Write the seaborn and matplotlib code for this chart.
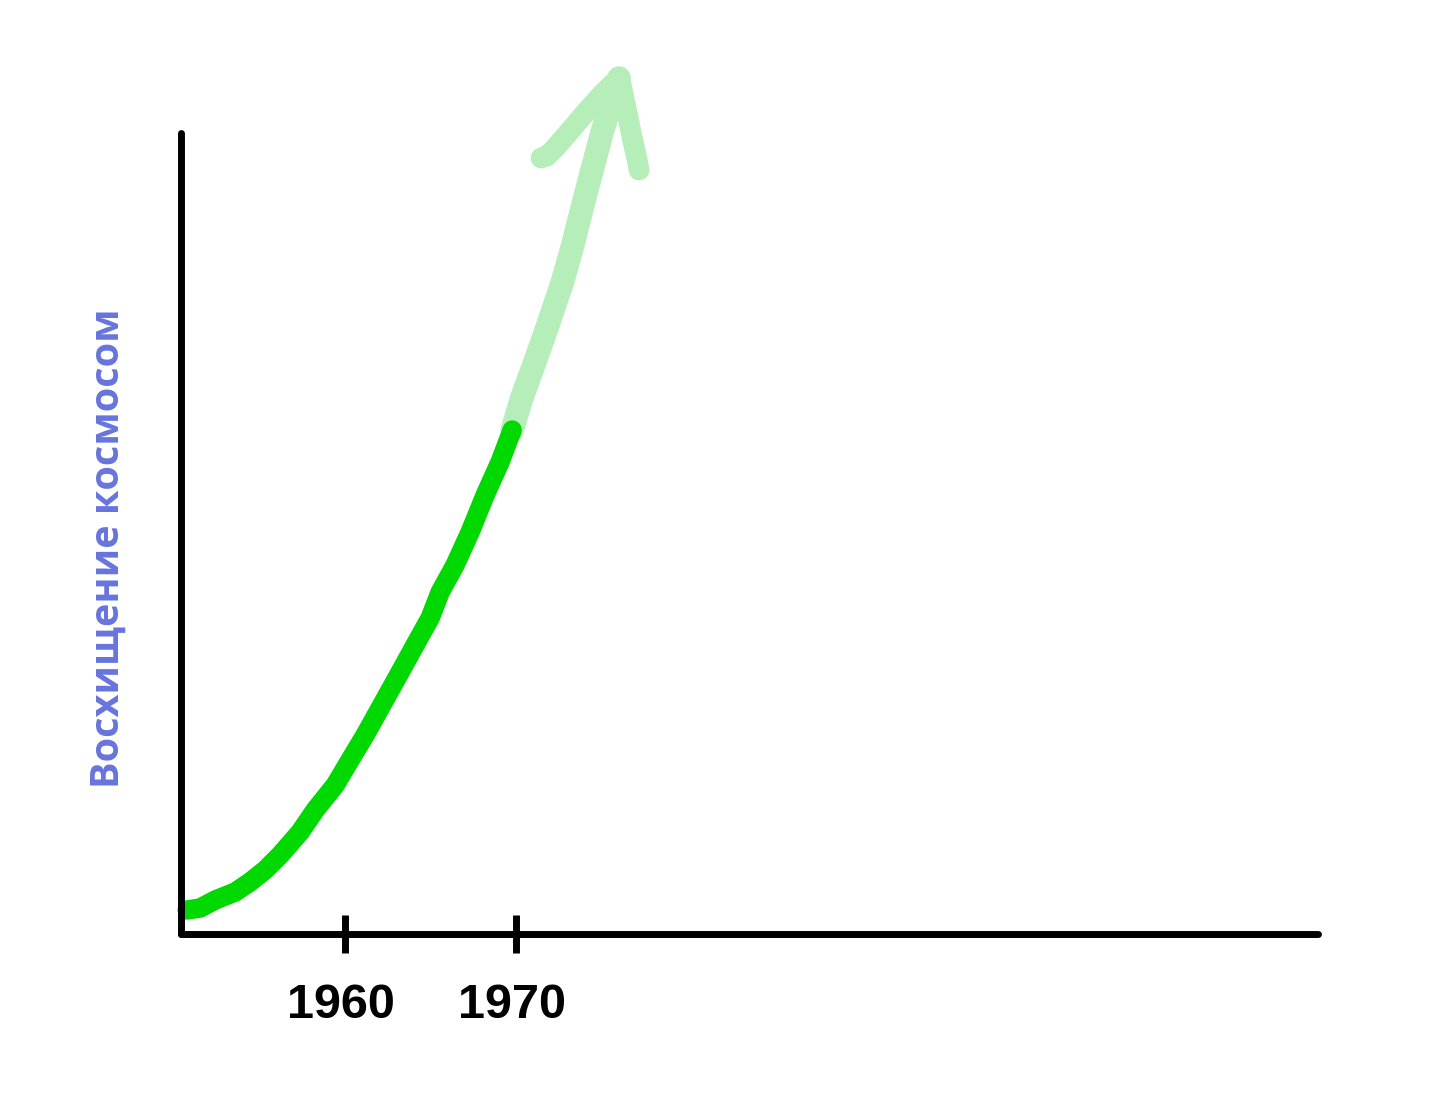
import matplotlib
matplotlib.use("Agg")
import matplotlib.pyplot as plt
import matplotlib.transforms as mtransforms
import seaborn as sns
import pandas as pd

# data (years vs. arbitrary "admiration" units)
past_years = [1950.76, 1951.52, 1952.40, 1953.57, 1954.44, 1955.32, 1956.20, 1957.37,
              1958.25, 1959.42, 1960.29, 1961.17, 1962.05, 1963.22, 1964.09, 1964.97,
              1965.56, 1966.43, 1967.31, 1968.19, 1969.06, 1969.77]
past_vals = [24, 26, 34, 42, 52, 64, 79, 102, 124, 149, 174, 199, 226, 262, 289, 316,
             342, 369, 402, 439, 472, 504]

future_years = [1969.77, 1970.35, 1970.99, 1971.70, 1972.69, 1973.27, 1973.86, 1974.44,
                1975.03, 1975.61, 1976.02]
future_vals = [504, 537, 567, 601, 651, 686, 726, 764, 802, 834, 856]

barb_left_years = [1976.02, 1975.09, 1974.04, 1973.04, 1972.28, 1971.81, 1971.46]
barb_left_vals = [856, 841, 821, 801, 786, 778, 776]
barb_right_years = [1976.08, 1976.43, 1976.78, 1977.08, 1977.19]
barb_right_vals = [854, 826, 797, 774, 764]

tick_years = [1960, 1970]
tick_labels = ["1960", "1970"]
ylabel = "Восхищение космосом"

sns.set_style("white")
plt.rcParams["font.family"] = ["Liberation Sans", "DejaVu Sans"]

fig = plt.figure(figsize=(14.52, 10.94), dpi=100)
ax = fig.add_axes([181 / 1452, 160 / 1094, 1137 / 1452, 801 / 1094])

light = "#b6eeb9"
green = "#00d900"

def draw(xs, ys, color, lw):
    df = pd.DataFrame({"year": xs, "val": ys})
    sns.lineplot(data=df, x="year", y="val", ax=ax, color=color, linewidth=lw,
                 sort=False, estimator=None, solid_capstyle="round",
                 solid_joinstyle="round", clip_on=False)

draw(future_years, future_vals, light, 17)
draw(barb_left_years, barb_left_vals, light, 15)
draw(barb_right_years, barb_right_vals, light, 15)
draw(past_years, past_vals, green, 14)

ax.set_xlim(1950.4, 2016.9)
ax.set_ylim(0, 801)

for side in ["top", "right"]:
    ax.spines[side].set_visible(False)
for side in ["left", "bottom"]:
    ax.spines[side].set_linewidth(5)
    ax.spines[side].set_color("black")
    ax.spines[side].set_capstyle("round")

ax.set_xticks(tick_years)
ax.set_xticklabels(tick_labels, fontsize=35, fontweight="bold")
ax.tick_params(axis="x", bottom=True, direction="inout", length=27, width=5, pad=22,
               colors="black")
for t in ax.xaxis.get_ticklines():
    t.set_solid_capstyle("round")
shift = mtransforms.ScaledTranslation(-4 / 100, 0, fig.dpi_scale_trans)
for lab in ax.get_xticklabels():
    lab.set_transform(lab.get_transform() + shift)
ax.set_yticks([])
ax.set_xlabel("")
ax.set_ylabel(ylabel, fontsize=28.5, fontweight="bold", color="#6674dd",
              family=["Open Sans", "DejaVu Sans"])
ax.yaxis.set_label_coords(-0.047, 0.482)

fig.savefig("out.png", dpi=100)
